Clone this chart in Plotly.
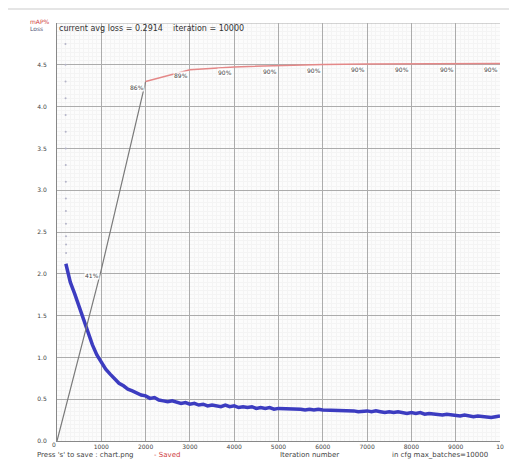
import plotly.graph_objects as go

# ---- data ----
max_batches = 10000
y_tick_vals = [0.0, 0.5, 1.0, 1.5, 2.0, 2.5, 3.0, 3.5, 4.0, 4.5]
y_tick_text = ["0.0", "0.5", "1.0", "1.5", "2.0", "2.5", "3.0", "3.5", "4.0", "4.5"]
x_tick_vals = [1000, 2000, 3000, 4000, 5000, 6000, 7000, 8000, 9000, 10000]
x_tick_text = ["1000", "2000", "3000", "4000", "5000", "6000", "7000", "8000", "9000", "10"]

# early, sparse loss dots (high values at the start)
early_iter = [190, 191, 192, 193, 194, 195, 196, 197, 198, 199, 200, 201, 202, 203, 204, 205]
early_loss = [4.95, 4.75, 4.5, 4.3, 4.1, 3.9, 3.7, 3.5, 3.3, 3.1, 2.9, 2.75, 2.6, 2.45, 2.35, 2.25]

# average loss, every 100 iterations from 200 to 10000
loss_iter = list(range(200, 10001, 100))
loss_vals = [
    2.12, 1.90, 1.76, 1.60, 1.45, 1.30, 1.15, 1.03, 0.94,
    0.86, 0.80, 0.74, 0.69, 0.66, 0.62, 0.60, 0.57, 0.55, 0.54,
    0.51, 0.52, 0.49, 0.48, 0.47, 0.48, 0.46, 0.45, 0.46, 0.44,
    0.45, 0.43, 0.44, 0.42, 0.43, 0.42, 0.41, 0.43, 0.41, 0.42,
    0.40, 0.41, 0.40, 0.41, 0.39, 0.40, 0.39, 0.40, 0.38, 0.39,
    0.39, 0.38, 0.39, 0.38, 0.38, 0.37, 0.38, 0.37, 0.38, 0.37,
    0.37, 0.36, 0.37, 0.36, 0.37, 0.36, 0.36, 0.35, 0.36, 0.36,
    0.35, 0.36, 0.35, 0.34, 0.35, 0.34, 0.35, 0.34, 0.33, 0.34,
    0.33, 0.34, 0.32, 0.33, 0.32, 0.32, 0.31, 0.32, 0.31, 0.31,
    0.30, 0.31, 0.30, 0.29, 0.30, 0.29, 0.29, 0.28, 0.29, 0.30,
]

# mAP (%) checkpoints
map_iter = [0, 1000, 2000, 3000, 4000, 5000, 6000, 7000, 8000, 9000, 10000]
map_vals = [0, 41, 86, 88.8, 89.5, 89.8, 90.1, 90.2, 90.2, 90.3, 90.3]

title_text = "current avg loss = 0.2914    iteration = 10000"

FONT = "DejaVu Sans"

fig = go.Figure()

fig.add_trace(go.Scatter(
    x=early_iter, y=early_loss, mode="markers",
    marker=dict(size=2, color="#b4b4c8"), hoverinfo="skip", showlegend=False,
))
fig.add_trace(go.Scatter(
    x=loss_iter, y=loss_vals, mode="lines",
    line=dict(color="#3c3cc0", width=3.5), showlegend=False,
))
# mAP line: first (steep) part gray, rest red
fig.add_trace(go.Scatter(
    x=map_iter[:3], y=map_vals[:3], mode="lines", yaxis="y2",
    line=dict(color="#7a7a7a", width=1.2), showlegend=False,
))
fig.add_trace(go.Scatter(
    x=map_iter[2:], y=map_vals[2:], mode="lines", yaxis="y2",
    line=dict(color="#e48888", width=1.5), showlegend=False,
))

annotations = []
for it, v in zip(map_iter[1:], map_vals[1:]):
    annotations.append(dict(
        x=it, y=v, xref="x", yref="y2", text=f"{v:.0f}%", showarrow=False,
        xanchor="right", yanchor="middle", yshift=-6, xshift=-1,
        font=dict(family=FONT, size=6, color="#444444"),
        bgcolor="rgba(255,255,255,0.85)", borderpad=0,
    ))

def paper_text(px, py, text, color="#444444", size=7, anchor="left"):
    # px, py: pixel position in the 517x462 screenshot
    annotations.append(dict(
        x=(px - 57) / 443, y=(443 - py) / 420, xref="paper", yref="paper",
        text=text, showarrow=False, xanchor=anchor, yanchor="middle",
        font=dict(family=FONT, size=size, color=color),
    ))

paper_text(28, 21, "mAP%", color="#d04040", size=6)
paper_text(28, 29, "Loss", color="#555577", size=6)
paper_text(57, 29, title_text, size=8, color="#333333")
paper_text(35, 457, "Press 's' to save : chart.png", size=7, color="#444444")
paper_text(152, 457, "- Saved", size=7, color="#d04040")
paper_text(278, 457, "Iteration number", size=7, color="#444444")
paper_text(390, 457, "in cfg max_batches=10000", size=7, color="#444444")
paper_text(50, 447, "0", size=6, color="#444444")

fig.update_layout(
    width=509, height=454,
    margin=dict(l=49, r=17, t=15, b=19),
    paper_bgcolor="white", plot_bgcolor="#fcfcfc",
    font=dict(family=FONT, size=6, color="#444444"),
    annotations=annotations,
    xaxis=dict(
        range=[0, max_batches], tickvals=x_tick_vals, ticktext=x_tick_text,
        showgrid=True, gridcolor="#acacac", gridwidth=1.2,
        minor=dict(dtick=100, showgrid=True, gridcolor="#f4f4f4", gridwidth=1),
        zeroline=False, showline=True, linecolor="#888888", linewidth=1,
        ticks="", tickfont=dict(size=6, color="#444444"), fixedrange=True,
    ),
    yaxis=dict(
        range=[0, 5], tickvals=y_tick_vals, ticktext=y_tick_text,
        showgrid=True, gridcolor="#acacac", gridwidth=1.2,
        minor=dict(dtick=0.05, showgrid=True, gridcolor="#f4f4f4", gridwidth=1),
        zeroline=False, showline=True, linecolor="#888888", linewidth=1,
        ticks="", ticklabelstandoff=8, tickfont=dict(size=6, color="#444444"),
        fixedrange=True,
    ),
    yaxis2=dict(range=[0, 100], overlaying="y", visible=False, fixedrange=True),
    shapes=[
        dict(type="line", xref="paper", yref="paper",
             x0=-49 / 443, x1=460 / 443, y0=1 + 14 / 420, y1=1 + 14 / 420,
             line=dict(color="#dddddd", width=1.5)),
        dict(type="line", xref="x", yref="y", x0=0, x1=max_batches, y0=5, y1=5,
             line=dict(color="#acacac", width=1.2)),
    ],
)

fig.write_html("out.html")
